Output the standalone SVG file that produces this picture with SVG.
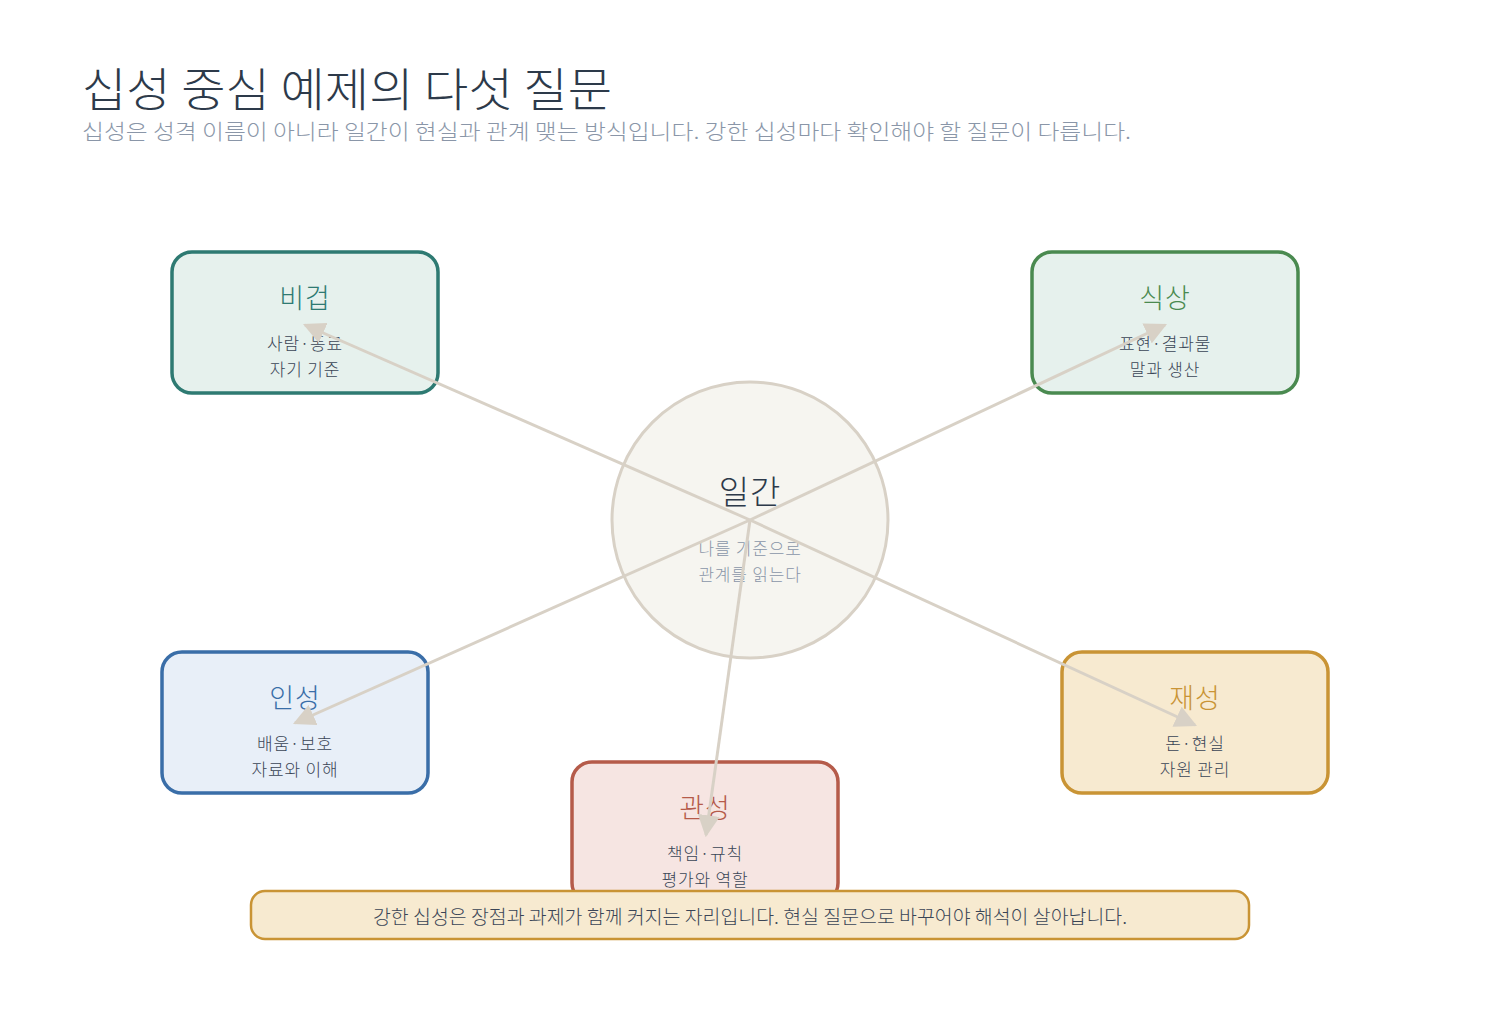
<svg xmlns="http://www.w3.org/2000/svg" width="1500" height="1010" viewBox="0 0 1500 1010">
<style>
text{font-family:"Noto Sans CJK KR","Noto Sans",sans-serif;text-anchor:middle}
.t{font-size:27px;font-weight:300;letter-spacing:1px}
.s{font-size:17px;fill:#3a4556;font-weight:300;letter-spacing:0.8px}
.n rect{stroke-width:3.5}
.c line{stroke:#d8d1c6;stroke-width:3}
</style>
<defs><marker id="a" viewBox="0 0 10 10" refX="9" refY="5" markerWidth="22" markerHeight="22" markerUnits="userSpaceOnUse" orient="auto"><path d="M0,0L10,5L0,10z" fill="#d8d1c6"/></marker></defs>
<text x="82" y="106" textLength="530" lengthAdjust="spacingAndGlyphs" style="font-size:46px;font-weight:300;text-anchor:start" fill="#2d3a4a">십성 중심 예제의 다섯 질문</text>
<text x="82" y="139" textLength="1049" lengthAdjust="spacingAndGlyphs" style="font-size:21px;font-weight:300;text-anchor:start" fill="#8a96a8">십성은 성격 이름이 아니라 일간이 현실과 관계 맺는 방식입니다. 강한 십성마다 확인해야 할 질문이 다릅니다.</text>
<g id="bigeop" class="n"><rect x="172" y="252" width="266" height="141" rx="20" fill="#e6f1ed" stroke="#2e7a72"/><text class="t" x="305" y="308" fill="#2e7a72">비겁</text><text class="s" x="305" y="350">사람·동료</text><text class="s" x="305" y="376">자기 기준</text></g>
<g id="siksang" class="n"><rect x="1032" y="252" width="266" height="141" rx="20" fill="#e6f1ed" stroke="#4a8a50"/><text class="t" x="1165" y="308" fill="#4a8a50">식상</text><text class="s" x="1165" y="350">표현·결과물</text><text class="s" x="1165" y="376">말과 생산</text></g>
<g id="inseong" class="n"><rect x="162" y="652" width="266" height="141" rx="20" fill="#e8eff8" stroke="#3a6ea8"/><text class="t" x="295" y="708" fill="#3a6ea8">인성</text><text class="s" x="295" y="750">배움·보호</text><text class="s" x="295" y="776">자료와 이해</text></g>
<g id="jaeseong" class="n"><rect x="1062" y="652" width="266" height="141" rx="20" fill="#f7ead0" stroke="#c99435"/><text class="t" x="1195" y="708" fill="#c99435">재성</text><text class="s" x="1195" y="750">돈·현실</text><text class="s" x="1195" y="776">자원 관리</text></g>
<g id="gwanseong" class="n"><rect x="572" y="762" width="266" height="141" rx="20" fill="#f6e5e2" stroke="#b55b4a"/><text class="t" x="705" y="818" fill="#b55b4a">관성</text><text class="s" x="705" y="860">책임·규칙</text><text class="s" x="705" y="886">평가와 역할</text></g>
<g id="ilgan"><circle cx="750" cy="520" r="138" fill="#f6f5f0" stroke="#d8d1c6" stroke-width="3"/><text x="750" y="504" style="font-size:33px;font-weight:300;letter-spacing:1px" fill="#2d3a4a">일간</text><text class="s" x="750" y="555" style="fill:#8a96a8">나를 기준으로</text><text class="s" x="750" y="581" style="fill:#8a96a8">관계를 읽는다</text></g>
<g class="c" id="connectors">
<line x1="750" y1="520" x2="305" y2="325" marker-end="url(#a)"/>
<line x1="750" y1="520" x2="1165" y2="325" marker-end="url(#a)"/>
<line x1="750" y1="520" x2="295" y2="723" marker-end="url(#a)"/>
<line x1="750" y1="520" x2="1195" y2="725" marker-end="url(#a)"/>
<line x1="750" y1="520" x2="706" y2="835" marker-end="url(#a)"/>
</g>
<g id="banner"><rect x="251" y="891" width="998" height="48" rx="14" fill="#f7ead0" stroke="#c99435" stroke-width="2.5"/><text x="750" y="924" textLength="754" lengthAdjust="spacingAndGlyphs" style="font-size:19px;font-weight:300" fill="#3a4556">강한 십성은 장점과 과제가 함께 커지는 자리입니다. 현실 질문으로 바꾸어야 해석이 살아납니다.</text></g>
</svg>
